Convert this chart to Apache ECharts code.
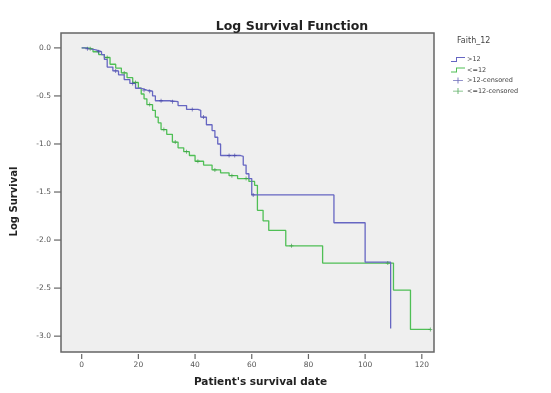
<!DOCTYPE html>
<html>
<head>
<meta charset="utf-8">
<script src="https://cdn.jsdelivr.net/npm/echarts@6/dist/echarts.min.js"></script>
<style>
  html, body { margin: 0; padding: 0; background: #fff; }
  #chart { width: 551px; height: 393px; }
</style>
</head>
<body>
<div id="chart"></div>
<script>
// >12 group: event times and log survival after each event
var blueTimes = [0, 1, 3, 5, 7, 8, 9, 11, 13, 15, 17, 19, 21, 23, 25, 26, 31, 34, 37, 41, 42, 44, 46, 47, 48, 49, 56, 57, 58, 59, 60, 89, 100, 109];
var blueVals = [0, -0.01, -0.02, -0.04, -0.07, -0.12, -0.20, -0.24, -0.28, -0.33, -0.37, -0.42, -0.44, -0.45, -0.50, -0.55, -0.56, -0.60, -0.64, -0.65, -0.72, -0.80, -0.86, -0.93, -1.00, -1.12, -1.13, -1.22, -1.31, -1.36, -1.53, -1.82, -2.23, -2.92];
// <=12 group
var greenTimes = [0, 2, 4, 6, 8, 10, 12, 14, 16, 18, 20, 21, 22, 23, 25, 26, 27, 28, 30, 32, 34, 36, 38, 40, 43, 46, 49, 52, 55, 59, 61, 62, 64, 66, 72, 85, 110, 116, 123];
var greenVals = [0, -0.01, -0.04, -0.07, -0.10, -0.17, -0.21, -0.26, -0.31, -0.36, -0.42, -0.48, -0.53, -0.59, -0.65, -0.72, -0.78, -0.85, -0.90, -0.98, -1.04, -1.08, -1.12, -1.18, -1.22, -1.27, -1.30, -1.33, -1.36, -1.39, -1.43, -1.69, -1.80, -1.90, -2.06, -2.24, -2.52, -2.93, -2.93];
// censored marks
var blueCensT = [2, 6, 12, 18, 22, 24, 28, 32, 39, 43, 52, 54, 60.5];
var blueCensV = [-0.01, -0.04, -0.24, -0.37, -0.44, -0.45, -0.55, -0.56, -0.64, -0.72, -1.12, -1.12, -1.53];
var greenCensT = [3, 9, 15, 19, 24, 29, 33, 37, 41, 47, 53, 58, 74, 108, 123];
var greenCensV = [-0.01, -0.10, -0.26, -0.36, -0.59, -0.85, -0.98, -1.08, -1.18, -1.27, -1.33, -1.36, -2.06, -2.24, -2.93];
// axis ticks
var xTicks = [0, 20, 40, 60, 80, 100, 120];
var yTicks = [0, -0.5, -1, -1.5, -2, -2.5, -3];

var xMin = -7.3, xMax = 124.3, yMin = -3.165, yMax = 0.155;

function pairs(t, v) {
    var out = [];
    for (var i = 0; i < t.length; i++) {
        out.push([t[i], v[i]]);
    }
    return out;
}

var blue = '#6666c2';
var green = '#4fbf55';
var plus = 'path://M4,0h2v4h4v2h-4v4h-2v-4h-4v-2h4z';
var plusLine = 'path://M0,4.5h6v-3.5h1.2v3.5h6v1h-6v3.5h-1.2v-3.5h-6z';
var stepLine = 'path://M0,6h5v-4h9v1h-8v4h-6z';

// tick marks drawn through the axis scales (outside the frame)
function tickSeries(values, isX) {
    return {
        type: 'custom',
        silent: true,
        clip: false,
        z: 5,
        data: values,
        renderItem: function (params, api) {
            var v = api.value(0);
            var p = isX ? api.coord([v, yMin]) : api.coord([xMin, v]);
            var shape = isX
                ? { x1: p[0], y1: p[1] + 2, x2: p[0], y2: p[1] + 7 }
                : { x1: p[0] - 7, y1: p[1], x2: p[0], y2: p[1] };
            return {
                type: 'line',
                shape: shape,
                style: { stroke: '#666', lineWidth: 1.2 }
            };
        }
    };
}

var chart = echarts.init(document.getElementById('chart'));
var option = {
    backgroundColor: '#fff',
    animation: false,
    title: {
        text: 'Log Survival Function',
        left: 287,
        textAlign: 'center',
        top: 15,
        textStyle: { fontFamily: 'DejaVu Sans', fontSize: 12.5, fontWeight: 'bold', color: '#222' }
    },
    graphic: [{
        type: 'text',
        left: 457,
        top: 37,
        style: { text: 'Faith_12', fontFamily: 'DejaVu Sans', fontSize: 8, fill: '#444' }
    }],
    legend: {
        orient: 'vertical',
        left: 446,
        top: 51,
        itemWidth: 14,
        itemHeight: 6,
        itemGap: 3.5,
        textStyle: { fontFamily: 'DejaVu Sans', fontSize: 6.5, color: '#444', padding: [0, 0, 0, -3] },
        data: [
            { name: '>12', icon: stepLine },
            { name: '<=12', icon: stepLine },
            { name: '>12-censored', icon: plusLine },
            { name: '<=12-censored', icon: plusLine }
        ]
    },
    grid: {
        left: 61,
        right: 117,
        top: 33,
        bottom: 38,
        show: true,
        backgroundColor: '#efefef',
        borderColor: '#666',
        borderWidth: 1.5
    },
    xAxis: {
        type: 'value',
        min: xMin,
        max: xMax,
        name: "Patient's survival date",
        nameLocation: 'middle',
        nameGap: 25,
        nameTextStyle: { fontFamily: 'DejaVu Sans', fontSize: 10.5, fontWeight: 'bold', color: '#222', padding: [0, 0, 0, 26] },
        axisLine: { show: false, onZero: false },
        splitLine: { show: false },
        axisTick: { show: false },
        axisLabel: {
            customValues: xTicks,
            margin: 9,
            fontFamily: 'DejaVu Sans', fontSize: 7.5, color: '#555'
        }
    },
    yAxis: {
        type: 'value',
        min: yMin,
        max: yMax,
        name: 'Log Survival',
        nameLocation: 'middle',
        nameGap: 42,
        nameRotate: 90,
        nameTextStyle: { fontFamily: 'DejaVu Sans', fontSize: 10, fontWeight: 'bold', color: '#222', padding: [0, 18, 0, 0] },
        axisLine: { show: false, onZero: false },
        splitLine: { show: false },
        axisTick: { show: false },
        axisLabel: {
            customValues: yTicks,
            margin: 10,
            fontFamily: 'DejaVu Sans', fontSize: 7.5, color: '#555',
            formatter: function (v) { return v.toFixed(1); }
        }
    },
    series: [{
        name: '>12',
        type: 'line',
        step: 'end',
        showSymbol: false,
        symbol: 'none',
        color: blue,
        lineStyle: { color: blue, width: 1.3 },
        data: pairs(blueTimes, blueVals),
        z: 3
    }, {
        name: '<=12',
        type: 'line',
        step: 'end',
        showSymbol: false,
        symbol: 'none',
        color: green,
        lineStyle: { color: green, width: 1.3 },
        data: pairs(greenTimes, greenVals),
        z: 2
    }, {
        name: '>12-censored',
        type: 'scatter',
        symbol: plus,
        symbolSize: 4,
        itemStyle: { color: '#4848a8' },
        data: pairs(blueCensT, blueCensV),
        z: 4
    }, {
        name: '<=12-censored',
        type: 'scatter',
        symbol: plus,
        symbolSize: 4,
        itemStyle: { color: '#3a9e44' },
        data: pairs(greenCensT, greenCensV),
        z: 4
    },
    tickSeries(xTicks, true),
    tickSeries(yTicks, false)]
};
chart.setOption(option);
</script>
</body>
</html>
